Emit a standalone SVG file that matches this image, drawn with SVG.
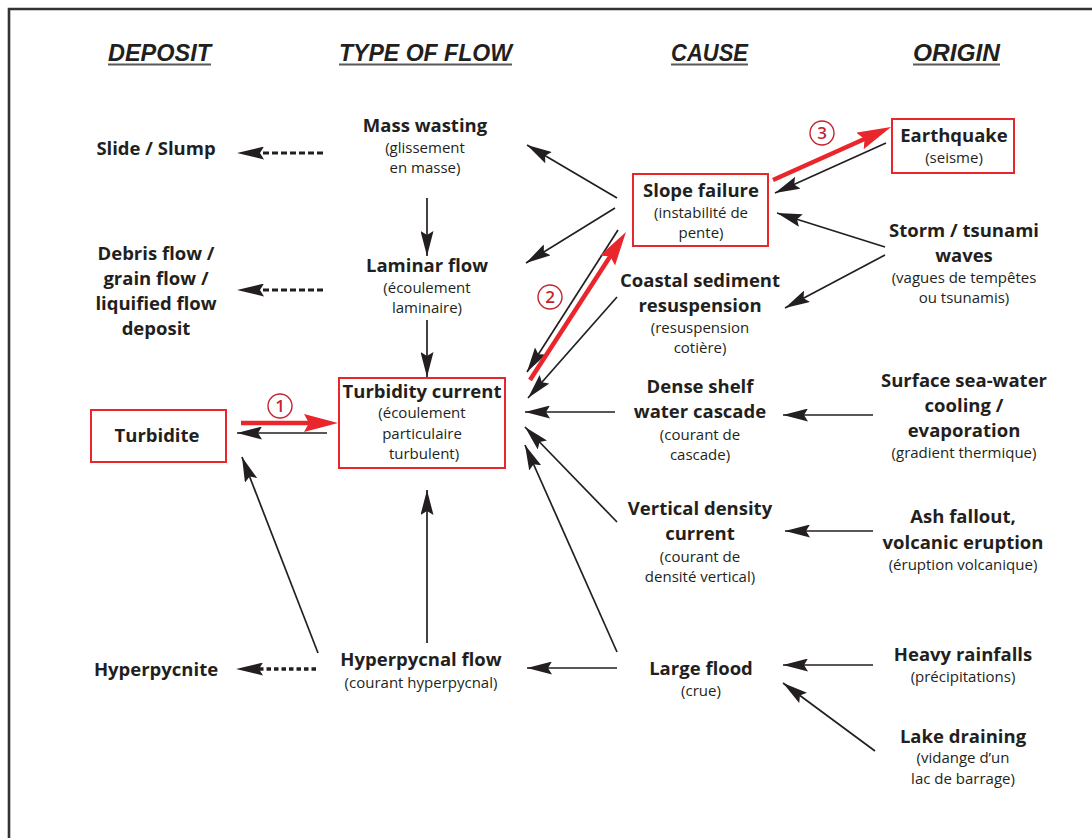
<svg xmlns="http://www.w3.org/2000/svg" width="1092" height="838" viewBox="0 0 1092 838">
<style>
.t{font-family:"Open Sans","Noto Sans","Liberation Sans",sans-serif;font-weight:700;font-size:18.5px;fill:#231f20;text-anchor:middle}
.s{font-family:"Open Sans","Noto Sans","Liberation Sans",sans-serif;font-weight:400;font-size:15px;fill:#231f20;text-anchor:middle}
.h{font-family:"Liberation Sans",Arial,sans-serif;font-weight:700;font-style:italic;font-size:23px;fill:#231f20}
.ul{stroke:#58595b;stroke-width:2}
.box{fill:none;stroke:#e8262b;stroke-width:2}
.c{stroke:#231f20;stroke-width:1.7;fill:none;marker-end:url(#ah)}
.d{stroke:#231f20;stroke-width:3;fill:none;stroke-dasharray:6 3;marker-end:url(#dh)}
.dt{stroke:#231f20;stroke-width:3.5;fill:none;stroke-dasharray:4.5 3;marker-end:url(#dh)}
.r{stroke:#e8262b;stroke-width:4.5;fill:none;marker-end:url(#rh)}
.num{fill:none;stroke:#c1272d;stroke-width:1.4}
.nt{font-family:"Open Sans","Liberation Sans",sans-serif;font-size:17px;font-weight:600;fill:#c1272d;text-anchor:middle}
</style>
<defs>
<marker id="ah" viewBox="0 0 25 13" refX="25" refY="6.5" markerWidth="25" markerHeight="13" orient="auto" markerUnits="userSpaceOnUse"><path d="M0,0 L25,6.5 L0,13 L4,6.5 z" fill="#231f20"/></marker>
<marker id="dh" viewBox="0 0 27 13" refX="14" refY="6.5" markerWidth="27" markerHeight="13" orient="auto" markerUnits="userSpaceOnUse"><path d="M0,0 L27,6.5 L0,13 L4,6.5 z" fill="#231f20"/></marker>
<marker id="rh" viewBox="0 0 34 18" refX="14" refY="9" markerWidth="34" markerHeight="18" orient="auto" markerUnits="userSpaceOnUse"><path d="M0,0 L34,9 L0,18 L5,9 z" fill="#e8262b"/></marker>
</defs>
<rect width="1092" height="838" fill="#ffffff"/>
<path d="M9,838 L9,9 L1092,9" fill="none" stroke="#333333" stroke-width="2.6"/>

<g id="headers">
<text class="h" x="108" y="61" textLength="103" lengthAdjust="spacingAndGlyphs">DEPOSIT</text>
<line class="ul" x1="108" y1="64.5" x2="211" y2="64.5"/>
<text class="h" x="339" y="61" textLength="173" lengthAdjust="spacingAndGlyphs">TYPE OF FLOW</text>
<line class="ul" x1="339" y1="64.5" x2="512" y2="64.5"/>
<text class="h" x="671" y="61" textLength="77" lengthAdjust="spacingAndGlyphs">CAUSE</text>
<line class="ul" x1="671" y1="64.5" x2="748" y2="64.5"/>
<text class="h" x="913" y="61" textLength="87" lengthAdjust="spacingAndGlyphs">ORIGIN</text>
<line class="ul" x1="913" y1="64.5" x2="1000" y2="64.5"/>
</g>

<g id="slide-slump"><text class="t" x="156" y="155">Slide / Slump</text></g>
<g id="debris-flow"><text class="t" x="156" y="260">Debris flow /</text><text class="t" x="156" y="285">grain flow /</text><text class="t" x="156" y="310">liquified flow</text><text class="t" x="156" y="335">deposit</text></g>
<g id="turbidite"><rect class="box" x="91" y="410" width="135" height="52"/><text class="t" x="157" y="442">Turbidite</text></g>
<g id="hyperpycnite"><text class="t" x="156" y="676">Hyperpycnite</text></g>

<g id="mass-wasting"><text class="t" x="425" y="132">Mass wasting</text><text class="s" x="425" y="153">(glissement</text><text class="s" x="425" y="173">en masse)</text></g>
<g id="laminar-flow"><text class="t" x="427" y="272">Laminar flow</text><text class="s" x="427" y="293">(écoulement</text><text class="s" x="427" y="313">laminaire)</text></g>
<g id="turbidity-current"><rect class="box" x="339" y="378" width="166" height="90"/><text class="t" x="422" y="398">Turbidity current</text><text class="s" x="422" y="418">(écoulement</text><text class="s" x="422" y="439">particulaire</text><text class="s" x="424" y="459">turbulent)</text></g>
<g id="hyperpycnal-flow"><text class="t" x="421" y="666">Hyperpycnal flow</text><text class="s" x="421" y="688">(courant hyperpycnal)</text></g>

<g id="slope-failure"><rect class="box" x="633" y="174" width="135" height="72"/><text class="t" x="701" y="197">Slope failure</text><text class="s" x="701" y="218">(instabilité de</text><text class="s" x="701" y="238">pente)</text></g>
<g id="coastal-sediment"><text class="t" x="700" y="287">Coastal sediment</text><text class="t" x="700" y="312">resuspension</text><text class="s" x="700" y="333">(resuspension</text><text class="s" x="700" y="353">cotière)</text></g>
<g id="dense-shelf"><text class="t" x="700" y="393">Dense shelf</text><text class="t" x="700" y="418">water cascade</text><text class="s" x="700" y="440">(courant de</text><text class="s" x="700" y="460">cascade)</text></g>
<g id="vertical-density"><text class="t" x="700" y="515">Vertical density</text><text class="t" x="700" y="540">current</text><text class="s" x="700" y="562">(courant de</text><text class="s" x="700" y="582">densité vertical)</text></g>
<g id="large-flood"><text class="t" x="701" y="675">Large flood</text><text class="s" x="701" y="696">(crue)</text></g>

<g id="earthquake"><rect class="box" x="892" y="119" width="122" height="54"/><text class="t" x="954" y="142">Earthquake</text><text class="s" x="954" y="163">(seisme)</text></g>
<g id="storm-tsunami"><text class="t" x="964" y="237">Storm / tsunami</text><text class="t" x="964" y="262">waves</text><text class="s" x="964" y="283">(vagues de tempêtes</text><text class="s" x="964" y="303">ou tsunamis)</text></g>
<g id="surface-cooling"><text class="t" x="964" y="387">Surface sea-water</text><text class="t" x="964" y="412">cooling /</text><text class="t" x="964" y="437">evaporation</text><text class="s" x="964" y="458">(gradient thermique)</text></g>
<g id="ash-fallout"><text class="t" x="963" y="523">Ash fallout,</text><text class="t" x="963" y="549">volcanic eruption</text><text class="s" x="963" y="570">(éruption volcanique)</text></g>
<g id="heavy-rainfalls"><text class="t" x="963" y="661">Heavy rainfalls</text><text class="s" x="963" y="682">(précipitations)</text></g>
<g id="lake-draining"><text class="t" x="963" y="743">Lake draining</text><text class="s" x="963" y="763">(vidange d’un</text><text class="s" x="963" y="784">lac de barrage)</text></g>

<g id="connectors">
<line class="c" x1="427" y1="198" x2="427" y2="256"/>
<line class="c" x1="427" y1="320" x2="427" y2="377"/>
<line class="c" x1="427" y1="643" x2="427" y2="490"/>
<line class="c" x1="318" y1="653" x2="242" y2="457"/>
<line class="c" x1="327" y1="433" x2="237" y2="433"/>
<line class="c" x1="617" y1="198" x2="527" y2="145"/>
<line class="c" x1="615" y1="208" x2="526" y2="263"/>
<line class="c" x1="618" y1="230" x2="527" y2="372"/>
<line class="c" x1="617" y1="297" x2="528" y2="398"/>
<line class="c" x1="615" y1="412" x2="525" y2="412"/>
<line class="c" x1="617" y1="522" x2="525" y2="427"/>
<line class="c" x1="617" y1="652" x2="525" y2="445"/>
<line class="c" x1="617" y1="668" x2="527" y2="668"/>
<line class="c" x1="886" y1="143" x2="775" y2="193"/>
<line class="c" x1="885" y1="247" x2="777" y2="213"/>
<line class="c" x1="885" y1="255" x2="785" y2="308"/>
<line class="c" x1="873" y1="415" x2="783" y2="415"/>
<line class="c" x1="873" y1="531" x2="785" y2="531"/>
<line class="c" x1="873" y1="665" x2="783" y2="665"/>
<line class="c" x1="875" y1="751" x2="783" y2="683"/>
<line class="d" x1="323" y1="153" x2="250" y2="153"/>
<line class="d" x1="323" y1="290" x2="250" y2="290"/>
<line class="dt" x1="316" y1="669" x2="249" y2="669"/>
<line class="r" x1="241" y1="423" x2="318" y2="423"/>
<line class="r" x1="530" y1="380" x2="615.1" y2="248.8"/>
<line class="r" x1="773" y1="180" x2="872.8" y2="135.2"/>
<circle class="num" cx="280" cy="406" r="12"/><text class="nt" x="280" y="412">1</text>
<circle class="num" cx="550" cy="297" r="12"/><text class="nt" x="550" y="303">2</text>
<circle class="num" cx="822" cy="133" r="12"/><text class="nt" x="822" y="139">3</text>
</g>
</svg>
